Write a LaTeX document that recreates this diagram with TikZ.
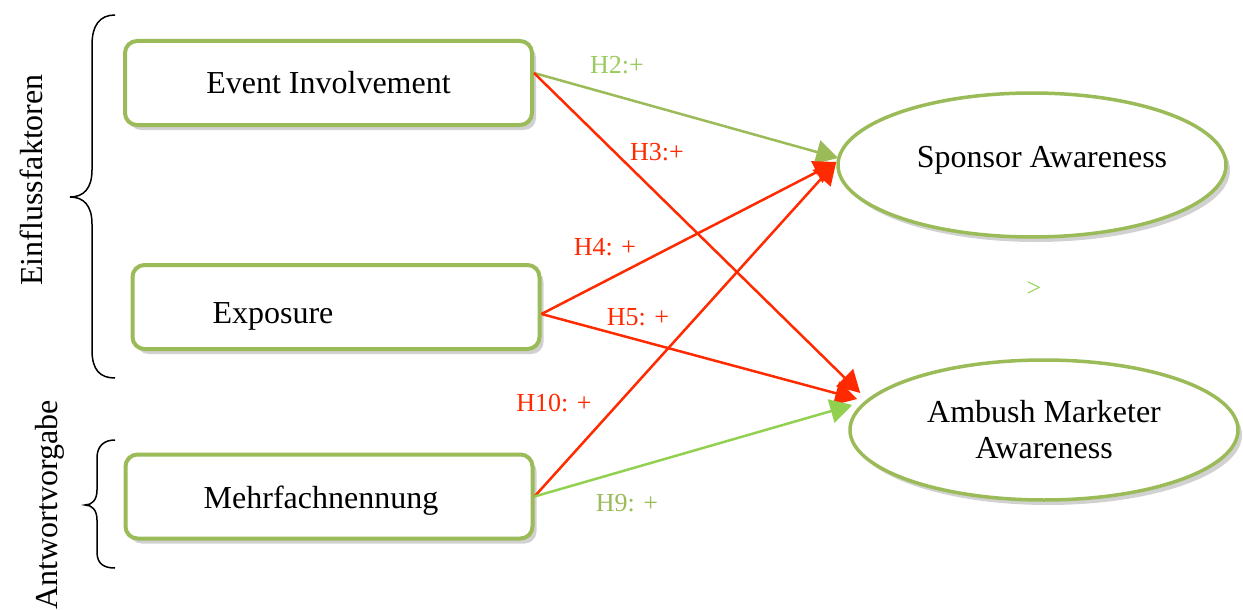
\documentclass[tikz,border=0pt]{standalone}
\usepackage{fontspec}
\setmainfont{Liberation Serif}
\usetikzlibrary{shapes.geometric,arrows.meta,shadows}
\definecolor{boxgreen}{HTML}{9BBB59}
\definecolor{lightgreen}{HTML}{92D050}
\definecolor{labgreen}{HTML}{9ACB5E}
\definecolor{redline}{HTML}{FF2A00}
\tikzset{
  big/.style={font=\fontsize{32}{36}\selectfont},
  small/.style={font=\fontsize{26}{30}\selectfont},
  fixh/.style={text height=22pt, text depth=7pt},
  shade/.style={drop shadow={shadow xshift=4pt,shadow yshift=-5pt,opacity=0.3,fill=black!60}},
  box/.style={big, draw=boxgreen, line width=4pt, rounded corners=12pt, fill=white,
    minimum width=407pt, minimum height=84pt, inner sep=0pt, shade},
  oval/.style={big, ellipse, draw=boxgreen, line width=3.5pt, fill=white,
    minimum width=388pt, minimum height=144pt, inner sep=0pt, align=center, shade},
  tip/.style={-{Triangle[length=22pt,width=24pt]}},
  redarr/.style={tip, draw=redline, line width=2.5pt},
  greenarr/.style={tip, draw=boxgreen, line width=2.5pt},
  lgreenarr/.style={tip, draw=lightgreen, line width=2.5pt},
  brace/.style={draw=black, line width=1.5pt},
}
\begin{document}
\begin{tikzpicture}[x=1pt,y=-1pt]
\useasboundingbox (0,0) rectangle (1243,610);

% boxes
\node[box] (ev) at (328.5,83) {Event Involvement};
\node[box, fixh, text width=247pt, inner xsep=80pt, align=left] (ex) at (336,307) {\raisebox{-9pt}{Exposure}};
\node[box, fixh] (mf) at (329,496.5) {\hspace*{-16pt}\raisebox{-4pt}{Mehrfachnennung}};

% ellipses
\node[oval, fixh] (sp) at (1032,165) {\raisebox{5pt}{\hspace*{20pt}Sponsor Awareness}};
\node[oval, minimum height=140pt] (am) at (1044,430) {Ambush Marketer\\Awareness};

% connector points
\coordinate (evout) at ([yshift=10pt]ev.east);
\coordinate (exout) at ([yshift=-7pt]ex.east);
\coordinate (mfout) at (mf.east);
\coordinate (spA) at ([shift={(2,-7)}]sp.west);
\coordinate (spB) at ([shift={(0,-3)}]sp.west);
\coordinate (amA) at ([shift={(12,-37)}]am.west);
\coordinate (amB) at ([shift={(9,-31)}]am.west);
\coordinate (amC) at ([shift={(4,-25)}]am.west);

% connectors
\draw[greenarr] (evout) -- (spA);
\draw[redarr] (evout) -- (amA);
\draw[redarr] (exout) -- (spB);
\draw[redarr] (exout) -- (amB);
\draw[redarr] (mfout) -- (spB);
\draw[lgreenarr] (mfout) -- (amC);

% labels
\node[small, text=labgreen] (l2) at (617,65) {H2:+};
\node[small, text=redline] (l3) at (657,152) {H3:+};
\node[small, text=redline] (l4) at (605,247) {H4: +};
\node[small, text=redline] (l5) at (638,317) {H5: +};
\node[small, text=redline] (l10) at (554,403) {H10: +};
\node[small, text=boxgreen] (l9) at (627,503) {H9: +};
\node[small, text=lightgreen] (gt) at (1034,289) {>};

% braces
\draw[brace] (115,15) .. controls (100,15) and (92,25) .. (92,45) -- (92,170)
  .. controls (92,188) and (84,197) .. (70,197)
  .. controls (84,197) and (92,206) .. (92,224) -- (92,350)
  .. controls (92,370) and (100,378) .. (115,378);
\draw[brace] (115,440) .. controls (104,440) and (97,446) .. (97,458) -- (97,490)
  .. controls (97,500) and (92,505) .. (85,505)
  .. controls (92,505) and (97,510) .. (97,520) -- (97,552)
  .. controls (97,564) and (104,568) .. (115,568);

\node[big, rotate=90] (t1) at (31,180) {Einflussfaktoren};
\node[big, rotate=90] (t2) at (50,505) {Antwortvorgabe};
\end{tikzpicture}
\end{document}
